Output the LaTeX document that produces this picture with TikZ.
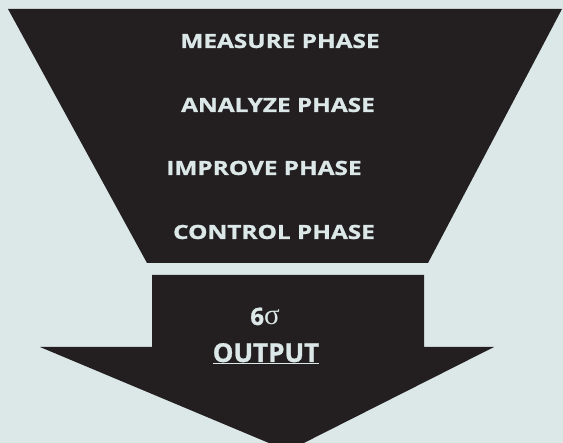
\documentclass[tikz,border=0pt]{standalone}
\usepackage{fontspec}
\setmainfont{Open Sans}
\newfontfamily\widefont[FakeStretch=1.25,FakeBold=1.2]{Open Sans}
\newfontfamily\heavyfont[FakeBold=1.2]{Open Sans}
\newfontfamily\greekfont{Liberation Serif}
\usetikzlibrary{positioning}
\definecolor{funnelblack}{HTML}{231F20}
\definecolor{paleblue}{HTML}{DCE8E8}
\tikzstyle{phase} = [text=paleblue, inner sep=0pt,
    font=\widefont\bfseries\fontsize{19.5}{22}\selectfont]
\tikzstyle{result} = [text=paleblue, inner sep=0pt, anchor=base,
    font=\heavyfont\bfseries\fontsize{26}{28}\selectfont]

\begin{document}
\begin{tikzpicture}[x=1pt,y=-1pt]
                \fill[paleblue] (0,0) rectangle (563,443);
                \useasboundingbox (0,0) rectangle (563,443);
                % funnel
                \fill[funnelblack] (8,9) -- (562,9) -- (428,263) -- (147,263) -- cycle;
                % output arrow
                \fill[funnelblack] (152,275) -- (424,275) -- (424,347) -- (494,347)
                    -- (288,451) -- (40,347) -- (152,347) -- cycle;
                \node[phase] (measure) at (280,41) {MEASURE PHASE};
                \node[phase] (analyze) at (278,105) {ANALYZE PHASE};
                \node[phase] (improve) at (264,168) {IMPROVE PHASE};
                \node[phase] (control) at (274,232) {CONTROL PHASE};
                \node[result, font=\heavyfont\bfseries\fontsize{24}{26}\selectfont] (sigma) at (265,325)
                    {6{\greekfont\mdseries\fontsize{29}{30}\selectfont σ}};
                \node[result] (output) at (266,362) {\underline{OUTPUT}};
            \end{tikzpicture}
\end{document}
